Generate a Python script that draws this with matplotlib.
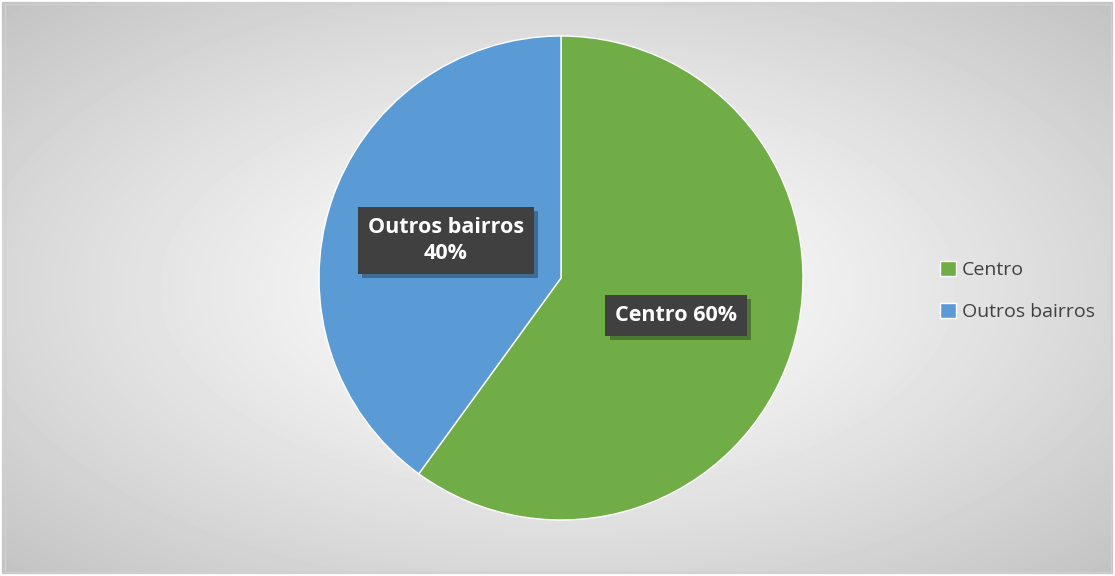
import numpy as np
import matplotlib
matplotlib.use("Agg")
import matplotlib.pyplot as plt
import matplotlib.patheffects as pe
from matplotlib.patches import Rectangle

categories = ['Centro', 'Outros bairros']
shares = [60, 40]
colors = ['#70AD47', '#5B9BD5']
labels = ['Centro 60%', 'Outros bairros\n40%']

plt.rcParams['font.family'] = ['Open Sans', 'DejaVu Sans']

fig = plt.figure(figsize=(11.15, 5.76), dpi=100)

# radial grey background
bg = fig.add_axes([0, 0, 1, 1])
yy, xx = np.mgrid[0:576, 0:1115]
r = np.sqrt(((xx - 557) / 557.0) ** 2 + ((yy - 288) / 288.0) ** 2) / np.sqrt(2)
shade = 1.0 - 0.24 * np.clip(r, 0, 1) ** 1.2
bg.imshow(shade, cmap='gray', vmin=0, vmax=1, extent=[0, 1115, 576, 0], aspect='auto')
bg.add_patch(Rectangle((5, 4), 1106, 568, fill=False, edgecolor='#d0d0d0', lw=1))
bg.add_patch(Rectangle((0, 0), 1114, 575, fill=False, edgecolor='white', lw=2))
bg.set_xlim(0, 1115)
bg.set_ylim(576, 0)
bg.axis('off')

ax = fig.add_axes([319 / 1115, 56 / 576, 484 / 1115, 484 / 576])
wedges, _ = ax.pie(shares, colors=colors, startangle=90, counterclock=False,
                   radius=1, wedgeprops=dict(linewidth=1, edgecolor='white'))
ax.set_xlim(-1, 1)
ax.set_ylim(-1, 1)
ax.set_aspect('equal')
ax.axis('off')

for w, lab in zip(wedges, labels):
    mid = np.deg2rad((w.theta1 + w.theta2) / 2)
    x, y = 0.5 * np.cos(mid), 0.5 * np.sin(mid)
    t = ax.text(x, y, lab, ha='center', va='center', fontsize=15.5, fontweight='bold',
                color='white', linespacing=1.35,
                bbox=dict(boxstyle='square,pad=0.45', facecolor='#404040', edgecolor='none'))
    t.get_bbox_patch().set_path_effects([
        pe.SimplePatchShadow(offset=(3, -3), shadow_rgbFace='black', alpha=0.3), pe.Normal()])

leg = fig.legend(wedges, categories, loc='center left', bbox_to_anchor=(922 / 1115, 1 - 291 / 576),
                 frameon=False, fontsize=14, handlelength=0.85, handleheight=0.85,
                 handletextpad=0.3, labelspacing=1.2)
for t in leg.get_texts():
    t.set_color('#404040')

fig.savefig('out.png', dpi=100)
